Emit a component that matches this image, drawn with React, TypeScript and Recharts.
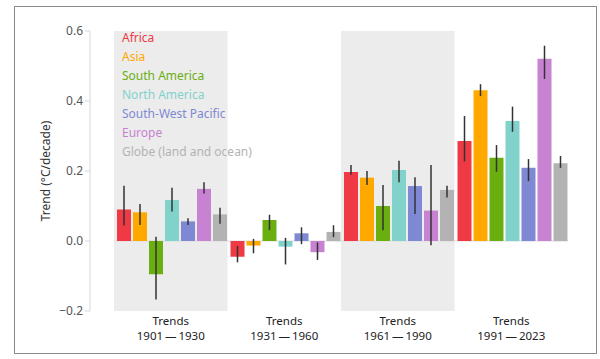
import {
  BarChart,
  Bar,
  XAxis,
  YAxis,
  ErrorBar,
  ReferenceArea,
  Legend,
} from "recharts";

// trend periods (x categories)
const periods = ["1901—1930", "1931—1960", "1961—1990", "1991—2023"];
const shadedPeriods = ["1901—1930", "1961—1990"];

const regions = [
  "Africa",
  "Asia",
  "South America",
  "North America",
  "South-West Pacific",
  "Europe",
  "Globe (land and ocean)",
];

// trend (°C/decade) per region, one value per period
const africa = [0.09, -0.045, 0.197, 0.286];
const asia = [0.082, -0.013, 0.181, 0.431];
const southAmerica = [-0.095, 0.06, 0.1, 0.238];
const northAmerica = [0.117, -0.016, 0.203, 0.343];
const swPacific = [0.056, 0.022, 0.157, 0.209];
const europe = [0.149, -0.032, 0.087, 0.521];
const globe = [0.076, 0.026, 0.146, 0.222];

// uncertainty range, low / high end
const africaLow = [0.044, -0.061, 0.189, 0.227];
const africaHigh = [0.158, -0.014, 0.217, 0.357];
const asiaLow = [0.046, -0.035, 0.16, 0.414];
const asiaHigh = [0.106, 0.006, 0.2, 0.448];
const southAmericaLow = [-0.167, 0.031, 0.031, 0.198];
const southAmericaHigh = [0.012, 0.075, 0.16, 0.274];
const northAmericaLow = [0.084, -0.067, 0.168, 0.312];
const northAmericaHigh = [0.152, 0.009, 0.229, 0.384];
const swPacificLow = [0.046, -0.009, 0.077, 0.171];
const swPacificHigh = [0.065, 0.039, 0.182, 0.234];
const europeLow = [0.136, -0.054, -0.012, 0.463];
const europeHigh = [0.168, -0.004, 0.217, 0.558];
const globeLow = [0.049, 0.011, 0.124, 0.209];
const globeHigh = [0.095, 0.045, 0.158, 0.243];

const yTicks = [-0.2, 0, 0.2, 0.4, 0.6];

const COLORS = ["#ef3a45", "#ffa800", "#6aae10", "#82d2cc", "#7f88d2", "#c882d2", "#b3b3b3"];

const series = [
  [africa, africaLow, africaHigh],
  [asia, asiaLow, asiaHigh],
  [southAmerica, southAmericaLow, southAmericaHigh],
  [northAmerica, northAmericaLow, northAmericaHigh],
  [swPacific, swPacificLow, swPacificHigh],
  [europe, europeLow, europeHigh],
  [globe, globeLow, globeHigh],
];

const data = periods.map((p, i) => {
  const row: any = { period: p };
  series.forEach(([vals, lo, hi], k) => {
    row["v" + k] = vals[i];
    row["e" + k] = [vals[i] - lo[i], hi[i] - vals[i]];
  });
  return row;
});

const PeriodTick = ({ x, y, payload }: any) => (
  <g>
    <text x={x} y={y + 6} textAnchor="middle" fill="#222" fontSize={11.5}>
      Trends
    </text>
    <text x={x} y={y + 21} textAnchor="middle" fill="#222" fontSize={11.5}>
      {String(payload.value).replace("—", "\u2009—\u2009")}
    </text>
  </g>
);

const LegendList = () => (
  <div style={{ fontSize: 12, lineHeight: "19px" }}>
    {regions.map((r, i) => (
      <div key={r} style={{ color: COLORS[i] }}>
        {r}
      </div>
    ))}
  </div>
);

const fmt = (v: number) => (v < 0 ? "\u2212" + Math.abs(v).toFixed(1) : v.toFixed(1));

export default function App() {
  return (
    <div
      style={{
        position: "absolute",
        left: 0,
        top: 0,
        width: 600,
        height: 359,
        fontFamily: "'Noto Sans', sans-serif",
      }}
    >
      <BarChart
        width={600}
        height={359}
        data={data}
        margin={{ top: 31, right: 32, bottom: 0, left: 0 }}
        barCategoryGap={3}
        barGap={2}
      >
        {shadedPeriods.map((p) => (
          <ReferenceArea key={p} x1={p} x2={p} y1={-0.2} y2={0.6} fill="#ececec" fillOpacity={1} stroke="none" />
        ))}
        {/* zero line, only across the bar groups */}
        <ReferenceArea
          x1={periods[0]}
          x2={periods[periods.length - 1]}
          y1={-0.0015}
          y2={0.0015}
          fill="#dcdcdc"
          fillOpacity={1}
          stroke="none"
        />
        <XAxis
          dataKey="period"
          axisLine={false}
          tickLine={false}
          height={48}
          padding={{ left: 24, right: 0 }}
          tick={<PeriodTick />}
          interval={0}
        />
        <YAxis
          domain={[-0.2, 0.6]}
          ticks={yTicks}
          width={90}
          tickFormatter={fmt}
          tick={{ fill: "#555", fontSize: 12 }}
          stroke="#d8d8d8"
          tickSize={5}
          tickMargin={2}
          label={{
            value: "Trend (°C/decade)",
            angle: -90,
            position: "insideLeft",
            offset: 46,
            style: { textAnchor: "middle", fill: "#333", fontSize: 12 },
          }}
        />
        <Legend
          layout="vertical"
          align="center"
          verticalAlign="middle"
          wrapperStyle={{ left: 122, top: 28, width: 200 }}
          content={<LegendList />}
        />
        {regions.map((r, k) => (
          <Bar key={r} dataKey={"v" + k} name={r} fill={COLORS[k]} isAnimationActive={false}>
            <ErrorBar dataKey={"e" + k} width={0} stroke="#333" strokeWidth={1.5} />
          </Bar>
        ))}
      </BarChart>
      <div
        style={{
          position: "absolute",
          left: 14,
          top: 6,
          width: 581,
          height: 346,
          border: "1px solid #8a8a8a",
          pointerEvents: "none",
        }}
      />
    </div>
  );
}
